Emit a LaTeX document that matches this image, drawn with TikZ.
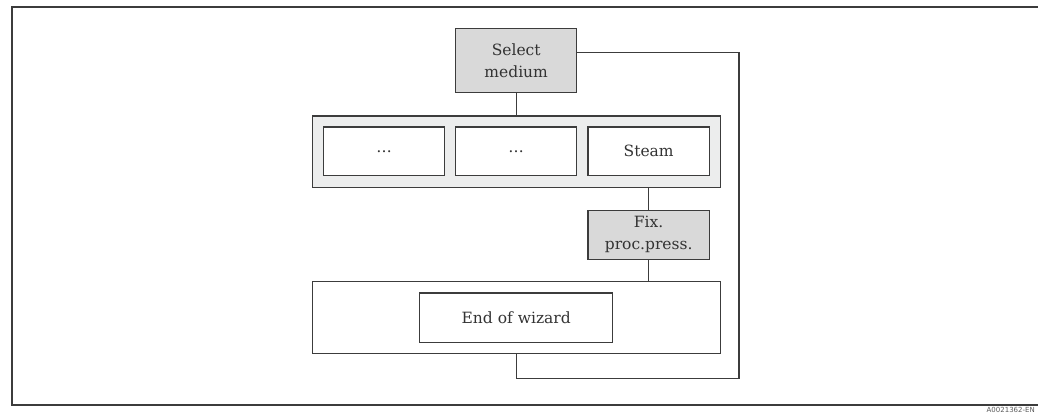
\documentclass[tikz,border=0pt]{standalone}
\usepackage{fontspec}
\setmainfont{DejaVu Serif}
\newfontfamily\labelfont{DejaVu Sans}
\definecolor{linec}{HTML}{3C3C3C}
\definecolor{txtc}{HTML}{333333}
\definecolor{darkfill}{HTML}{D9D9D9}
\definecolor{lightfill}{HTML}{ECEDED}
\begin{document}
\begin{tikzpicture}[x=1pt,y=-1pt,
  box/.style={draw=linec,line width=1.2pt,rectangle,inner sep=0pt,align=center,
    text=txtc,font=\fontsize{15.5}{22}\selectfont},
  greybox/.style={box,fill=darkfill},
  whitebox/.style={box,fill=white},
  groupbox/.style={draw=linec,line width=1.2pt,rectangle,inner sep=0pt},
  conn/.style={draw=linec,line width=1.2pt}]
\useasboundingbox (0,0) rectangle (1038,414);
\fill[white] (0,0) rectangle (1038,414);
% frame
\draw[linec,line width=2pt] (1045,7) -- (12,7) -- (12,405) -- (1045,405);
% nodes
\node[greybox,minimum width=121pt,minimum height=64.4pt] (sel) at (516.2,60.5) {Select\\medium};
\node[groupbox,fill=lightfill,minimum width=408.4pt,minimum height=71.7pt] (grp) at (516.5,151.85) {};
\node[whitebox,minimum width=121.4pt,minimum height=48.7pt] (b1) at (384,151.35) {\dots};
\node[whitebox,minimum width=121pt,minimum height=48.7pt] (b2) at (516.2,151.35) {\dots};
\node[whitebox,minimum width=121.3pt,minimum height=48.7pt] (b3) at (648.65,151.35) {Steam};
\node[greybox,minimum width=121.3pt,minimum height=49pt] (fix) at (648.65,234.8) {Fix.\\proc.press.};
\node[groupbox,fill=white,minimum width=408.4pt,minimum height=72pt] (endgrp) at (516.5,317.3) {};
\node[whitebox,minimum width=193pt,minimum height=49.3pt] (endw) at (516.2,317.65) {End of wizard};
% connectors
\coordinate (c1) at (739,52.3);
\coordinate (c2) at (739,378.7);
\draw[conn] (sel.south) -- (sel.south |- grp.north);
\draw[conn] (fix.north |- grp.south) -- (fix.north);
\draw[conn] (fix.south) -- (fix.south |- endgrp.north);
\draw[conn] (endgrp.south) |- (c2) -- (c1) -- (sel.east |- c1);
% drawing number
\node[anchor=north east,inner sep=0pt,text=txtc!80,font=\labelfont\fontsize{7}{7}\selectfont] (num) at (1035,407.5) {A0021362-EN};
\end{tikzpicture}
\end{document}
